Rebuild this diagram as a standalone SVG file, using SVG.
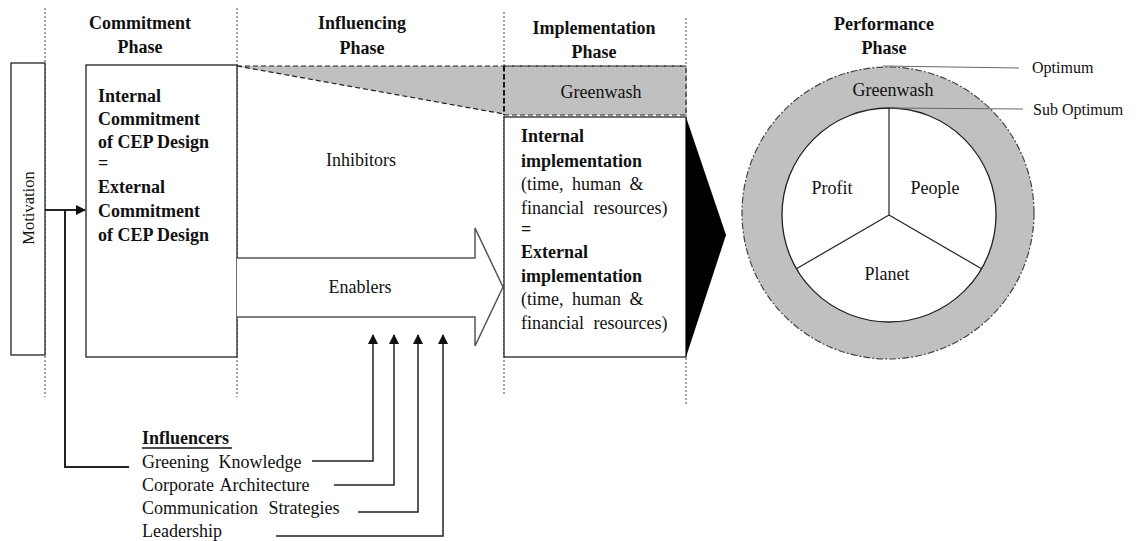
<svg xmlns="http://www.w3.org/2000/svg" width="1137" height="541" viewBox="0 0 1137 541" font-family="'Liberation Serif', 'DejaVu Serif', serif">
<defs>
<style>
text{font-family:"Liberation Serif","DejaVu Serif",serif;fill:#111;}
.h{font-size:18px;font-weight:bold;text-anchor:middle;}
.b{font-size:18px;font-weight:bold;}
.r{font-size:18px;}
.c{text-anchor:middle;}
.s{font-size:16px;}
.dot{stroke:#888;stroke-width:1.5;stroke-dasharray:2 2;fill:none;}
.dash{stroke:#222;stroke-width:1.2;stroke-dasharray:5 3;fill:none;}
.box{fill:#fff;stroke:#222;stroke-width:1.3;}
.ln{stroke:#222;stroke-width:1.5;fill:none;}
</style>
<marker id="ah" viewBox="0 0 10 10" refX="9" refY="5" markerWidth="5" markerHeight="5" orient="auto-start-reverse" markerUnits="strokeWidth">
<path d="M0,0 L10,5 L0,10 z" fill="#111"/>
</marker>
<marker id="ah2" viewBox="0 0 10 10" refX="9" refY="5" markerWidth="7" markerHeight="7" orient="auto" markerUnits="strokeWidth">
<path d="M0,0 L10,5 L0,10 z" fill="#111"/>
</marker>
</defs>
<rect width="1137" height="541" fill="#fff"/>

<g id="phase-dividers">
<line class="dot" x1="45" y1="8" x2="45" y2="397"/>
<line class="dot" x1="237" y1="8" x2="237" y2="397"/>
<line class="dot" x1="504" y1="12" x2="504" y2="394"/>
<line class="dot" x1="686" y1="18" x2="686" y2="405"/>
</g>

<g id="headers">
<text class="h" x="140" y="29">Commitment</text>
<text class="h" x="140" y="53">Phase</text>
<text class="h" x="362" y="29">Influencing</text>
<text class="h" x="362" y="54">Phase</text>
<text class="h" x="594" y="34">Implementation</text>
<text class="h" x="594" y="58">Phase</text>
<text class="h" x="884" y="30">Performance</text>
<text class="h" x="884" y="54">Phase</text>
</g>

<g id="greenwash-band">
<polygon points="237,66 686,66 686,115 504,115 504,114" fill="#c0c0c0"/>
<line class="dash" x1="237" y1="66" x2="686" y2="66"/>
<line class="dash" x1="237" y1="66" x2="504" y2="114"/>
<rect class="dash" x="504" y="66" width="182" height="49"/>
<line x1="504" y1="66" x2="504" y2="115" stroke="#111" stroke-width="2" stroke-dasharray="5 3"/>
<text class="r c" x="601" y="98">Greenwash</text>
</g>

<g id="motivation">
<rect class="box" x="11" y="63" width="34" height="292"/>
<text class="s c" transform="translate(34,208) rotate(-90)" style="font-size:16.5px">Motivation</text>
</g>

<g id="commitment">
<rect class="box" x="86" y="65" width="151" height="292"/>
<text class="b" x="98" y="102">Internal</text>
<text class="b" x="98" y="125">Commitment</text>
<text class="b" x="98" y="148">of CEP Design</text>
<text class="b" x="98" y="169">=</text>
<text class="b" x="98" y="193">External</text>
<text class="b" x="98" y="217">Commitment</text>
<text class="b" x="98" y="241">of CEP Design</text>
</g>

<g id="inhibitors">
<text class="r c" x="361" y="166">Inhibitors</text>
</g>

<g id="enablers">
<polyline points="237,258 475,258 475,228 503,287 475,346 475,317 237,317" fill="#fff" stroke="#555" stroke-width="1.5"/>
<text class="r c" x="360" y="293">Enablers</text>
</g>

<g id="implementation">
<rect class="box" x="504" y="117" width="182" height="240"/>
<text class="b" x="521" y="142">Internal</text>
<text class="b" x="521" y="167">implementation</text>
<text class="r" x="521" y="190" word-spacing="4">(time, human &amp;</text>
<text class="r" x="521" y="214" word-spacing="5">financial resources)</text>
<text class="b" x="521" y="235">=</text>
<text class="b" x="521" y="258">External</text>
<text class="b" x="521" y="282">implementation</text>
<text class="r" x="521" y="305" word-spacing="4">(time, human &amp;</text>
<text class="r" x="521" y="329" word-spacing="5">financial resources)</text>
</g>

<g id="transition-arrow">
<polygon points="686,117 726,235 686,357" fill="#000"/>
</g>

<g id="performance">
<circle cx="888" cy="213" r="146" fill="#c0c0c0" stroke="#444" stroke-width="1.2" stroke-dasharray="7 2 2 2"/>
<circle cx="889" cy="215" r="107" fill="#fff" stroke="#222" stroke-width="1.3"/>
<line class="ln" x1="889" y1="108" x2="889" y2="215" style="stroke-width:1.2"/>
<line class="ln" x1="889" y1="215" x2="796" y2="269" style="stroke-width:1.2"/>
<line class="ln" x1="889" y1="215" x2="982" y2="269" style="stroke-width:1.2"/>
<text class="r c" x="893" y="96">Greenwash</text>
<text class="r c" x="832" y="194">Profit</text>
<text class="r c" x="935" y="194">People</text>
<text class="r c" x="887" y="280">Planet</text>
</g>

<g id="levels">
<line x1="883" y1="66" x2="1019" y2="68" stroke="#666" stroke-width="1"/>
<line x1="890" y1="108" x2="1023" y2="109" stroke="#666" stroke-width="1"/>
<text class="s" x="1032" y="73">Optimum</text>
<text class="s" x="1033" y="115">Sub Optimum</text>
</g>

<g id="influencers">
<text class="b" x="142" y="444">Influencers</text>
<line x1="142" y1="448" x2="232" y2="448" stroke="#111" stroke-width="1.5"/>
<text class="r" x="142" y="468" word-spacing="5">Greening Knowledge</text>
<text class="r" x="142" y="491" word-spacing="2">Corporate Architecture</text>
<text class="r" x="142" y="514" word-spacing="6">Communication Strategies</text>
<text class="r" x="142" y="537">Leadership</text>
</g>

<g id="connectors">
<polyline class="ln" points="129,467 65,467 65,210" style="stroke-width:2"/>
<line class="ln" x1="45" y1="210" x2="85" y2="210" style="stroke-width:2" marker-end="url(#ah)"/>
<polyline class="ln" points="312,461 373,461 373,335" marker-end="url(#ah2)"/>
<polyline class="ln" points="334,485 394,485 394,335" marker-end="url(#ah2)"/>
<polyline class="ln" points="358,512 418,512 418,335" marker-end="url(#ah2)"/>
<polyline class="ln" points="276,536 443,536 443,335" marker-end="url(#ah2)"/>
</g>
</svg>
